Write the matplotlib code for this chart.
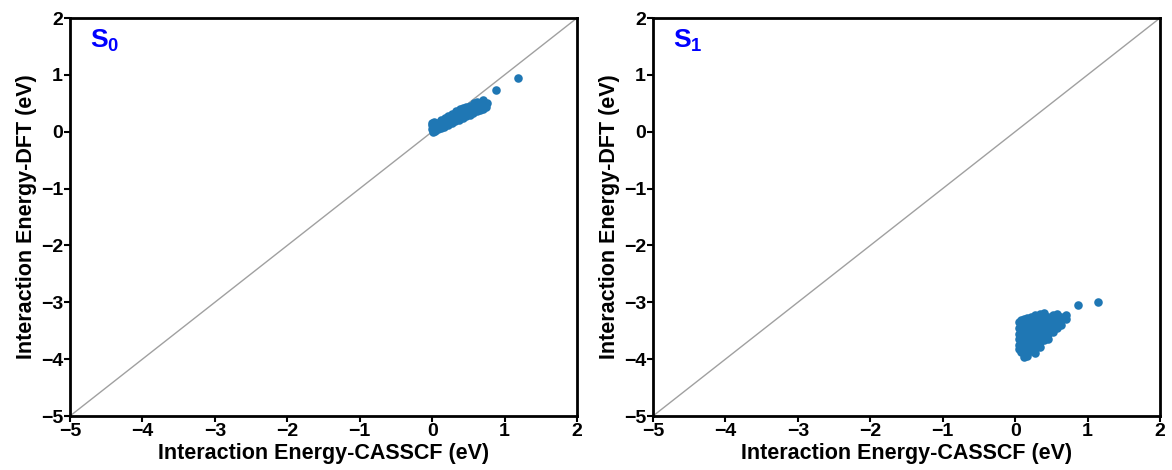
import matplotlib
matplotlib.use('Agg')
import matplotlib.pyplot as plt

plt.rcParams['font.family'] = ['Liberation Sans', 'DejaVu Sans']
plt.rcParams['mathtext.fontset'] = 'custom'
plt.rcParams['mathtext.bf'] = 'Liberation Sans:bold'
plt.rcParams['mathtext.rm'] = 'Liberation Sans:bold'

# S0: (CASSCF, DFT) interaction energies in eV
s0_points = [
    (0.00, 0.15), (0.02, 0.17), (0.00, 0.12), (0.03, 0.15), (0.08, 0.16), (0.12, 0.20),
    (0.18, 0.24), (0.22, 0.28), (0.28, 0.32), (0.33, 0.36), (0.38, 0.40),
    (0.42, 0.42), (0.47, 0.44), (0.52, 0.46), (0.58, 0.50), (0.62, 0.52),
    (0.70, 0.55), (0.72, 0.50), (0.76, 0.50), (0.74, 0.44),
    (0.00, 0.05), (0.02, 0.08), (0.05, 0.08), (0.10, 0.12), (0.15, 0.16),
    (0.20, 0.20), (0.25, 0.24), (0.30, 0.28), (0.35, 0.30), (0.40, 0.34),
    (0.45, 0.37), (0.50, 0.40), (0.55, 0.42), (0.60, 0.45), (0.65, 0.45),
    (0.01, 0.00), (0.04, 0.02), (0.08, 0.04), (0.12, 0.06), (0.17, 0.09),
    (0.22, 0.12), (0.27, 0.15), (0.32, 0.18), (0.37, 0.21), (0.42, 0.24),
    (0.47, 0.27), (0.52, 0.30), (0.57, 0.33), (0.62, 0.37), (0.66, 0.38),
    (0.70, 0.40),
    (0.88, 0.74), (1.18, 0.94),
]

# S1: (CASSCF, DFT) interaction energies in eV
s1_points = [
    (0.05, -3.35), (0.05, -3.45), (0.05, -3.55), (0.05, -3.65), (0.05, -3.75), (0.05, -3.82),
    (0.08, -3.32), (0.08, -3.42), (0.08, -3.52), (0.08, -3.62), (0.08, -3.72), (0.08, -3.80), (0.08, -3.88),
    (0.12, -3.30), (0.12, -3.40), (0.12, -3.50), (0.12, -3.60), (0.12, -3.70), (0.12, -3.80), (0.12, -3.90), (0.12, -3.96),
    (0.17, -3.28), (0.17, -3.38), (0.17, -3.48), (0.17, -3.58), (0.17, -3.68), (0.17, -3.78), (0.17, -3.88), (0.17, -3.94),
    (0.22, -3.25), (0.22, -3.35), (0.22, -3.45), (0.22, -3.55), (0.22, -3.65), (0.22, -3.75), (0.22, -3.85),
    (0.28, -3.22), (0.28, -3.32), (0.28, -3.42), (0.28, -3.52), (0.28, -3.62), (0.28, -3.72), (0.28, -3.82), (0.28, -3.90),
    (0.34, -3.20), (0.34, -3.30), (0.34, -3.40), (0.34, -3.50), (0.34, -3.60), (0.34, -3.70), (0.34, -3.78),
    (0.40, -3.18), (0.40, -3.28), (0.40, -3.38), (0.40, -3.48), (0.40, -3.58), (0.40, -3.66),
    (0.46, -3.25), (0.46, -3.35), (0.46, -3.45), (0.46, -3.55), (0.46, -3.65),
    (0.52, -3.22), (0.52, -3.32), (0.52, -3.42), (0.52, -3.52),
    (0.58, -3.20), (0.58, -3.28), (0.58, -3.38), (0.58, -3.46),
    (0.64, -3.25), (0.64, -3.32), (0.64, -3.40),
    (0.70, -3.22), (0.70, -3.30),
    (0.87, -3.04), (1.14, -3.00),
]

panels = [(s0_points, r'$\mathbf{S_0}$'), (s1_points, r'$\mathbf{S_1}$')]
ticks = [-5, -4, -3, -2, -1, 0, 1, 2]

fig = plt.figure(figsize=(11.72, 4.7), dpi=100)
lefts = [70 / 1172, 653 / 1172]
for (pts, label), left in zip(panels, lefts):
    ax = fig.add_axes([left, 1 - 416 / 470, 507 / 1172, 398 / 470])
    ax.plot([-5, 2], [-5, 2], color='#a0a0a0', lw=1, zorder=1)
    xs = [p[0] for p in pts]
    ys = [p[1] for p in pts]
    ax.scatter(xs, ys, s=38, color='#1f77b4', zorder=2, linewidths=0)
    ax.set_xlim(-5, 2)
    ax.set_ylim(-5, 2)
    ax.set_xticks(ticks)
    ax.set_yticks(ticks)
    for sp in ax.spines.values():
        sp.set_linewidth(2)
    ax.tick_params(width=1.5, length=4, labelsize=14, pad=1)
    for t in ax.get_xticklabels() + ax.get_yticklabels():
        t.set_fontweight('bold')
    ax.set_xlabel('Interaction Energy-CASSCF (eV)', fontsize=15.5, fontweight='bold', labelpad=2)
    ax.set_ylabel('Interaction Energy-DFT (eV)', fontsize=15.5, fontweight='bold', labelpad=3)
    ax.text(0.04, 0.975, label, transform=ax.transAxes, color='blue',
            fontsize=19, va='top', ha='left')

fig.savefig('out.png', dpi=100)
